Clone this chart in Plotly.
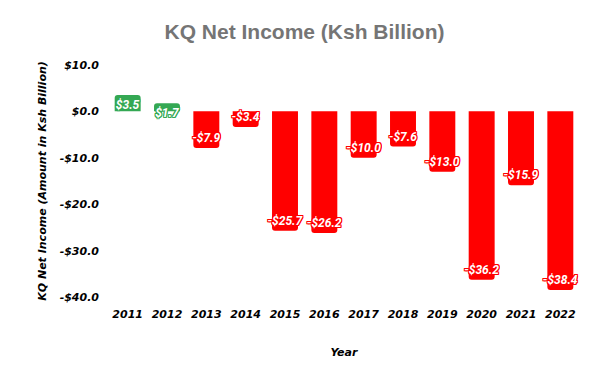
import plotly.graph_objects as go

years = ["2011", "2012", "2013", "2014", "2015", "2016", "2017", "2018", "2019", "2020", "2021", "2022"]
net_income = [3.5, 1.7, -7.9, -3.4, -25.7, -26.2, -10.0, -7.6, -13.0, -36.2, -15.9, -38.4]
tick_vals = [10, 0, -10, -20, -30, -40]
tick_text = ["$10.0", "$0.0", "-$10.0", "-$20.0", "-$30.0", "-$40.0"]

GREEN = "#34a853"
RED = "#ff0000"

def label(v):
    return ("-$" if v < 0 else "$") + f"{abs(v):.1f}"

fig = go.Figure()
for positive, color in [(True, GREEN), (False, RED)]:
    xs = [y for y, v in zip(years, net_income) if (v >= 0) == positive]
    vs = [v for v in net_income if (v >= 0) == positive]
    sh = ", ".join(f"{dx}px {dy}px 0 {color}" for dx, dy in [(1, 0), (-1, 0), (0, 1), (0, -1), (1, 1), (-1, -1), (1, -1), (-1, 1)])
    fig.add_trace(go.Bar(
        x=xs, y=vs,
        marker=dict(color=color, line=dict(width=0)),
        text=[label(v) for v in vs],
        textposition="inside",
        insidetextanchor="end",
        constraintext="none",
        textangle=0,
        insidetextfont=dict(family="Roboto", size=12, color="white", weight="bold", style="italic", shadow=sh),
        showlegend=False,
    ))

axis_font = dict(family="Comic Sans MS, DejaVu Sans", size=11, color="black", weight="bold", style="italic")
title_font = dict(family="Comic Sans MS, DejaVu Sans", size=11, color="black", weight="bold", style="italic")

fig.update_layout(
    width=609, height=377,
    barmode="relative",
    bargap=0.34,
    barcornerradius=3,
    plot_bgcolor="white",
    paper_bgcolor="white",
    margin=dict(l=108, r=29, t=60, b=75, autoexpand=False),
    title=dict(text="<b>KQ Net Income (Ksh Billion)</b>", x=0.5, xanchor="center",
               yref="container", y=1 - 32 / 377, yanchor="middle", automargin=False,
               font=dict(family="Liberation Sans, Arial", size=21, color="#757575")),
    xaxis=dict(
        type="category",
        automargin=False,
        showgrid=False, showline=False, zeroline=False,
        tickfont=axis_font,
        ticks="", ticklabelstandoff=4,
        title=dict(text="Year", font=title_font, standoff=28),
    ),
    yaxis=dict(
        range=[-41, 11],
        automargin=False,
        tickvals=tick_vals, ticktext=tick_text,
        showgrid=False, showline=False, zeroline=False,
        tickfont=axis_font,
        ticks="", ticklabelstandoff=8,
        title=dict(text="KQ Net Income (Amount in Ksh Billion)", font=title_font, standoff=10),
    ),
)

fig.write_html("out.html", config={"displayModeBar": False},
               post_script="document.body.style.margin='0';")
